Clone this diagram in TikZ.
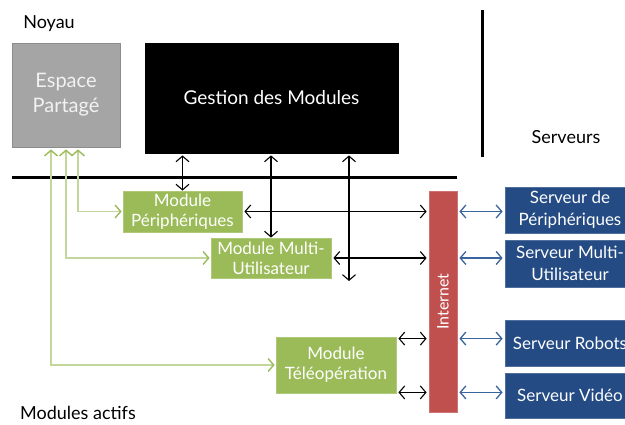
\documentclass[tikz,border=0pt]{standalone}
\usepackage{fontspec}
\setmainfont{Lato}
\usetikzlibrary{arrows.meta,calc,shadows}

\definecolor{grisnoyau}{HTML}{A5A5A5}
\definecolor{vertmodule}{HTML}{9BBB59}
\definecolor{vertclair}{HTML}{C3D69B}
\definecolor{rougenet}{HTML}{C0504D}
\definecolor{bleuserveur}{RGB}{36,75,132}
\definecolor{bleulien}{RGB}{58,100,160}

\begin{document}
\begin{tikzpicture}[x=0.5pt, y=-0.5pt, >={Straight Barb[length=2.8pt,width=6.5pt]},
    ombre/.style={drop shadow={opacity=0.25, shadow xshift=0.6pt, shadow yshift=-0.6pt}},
    boite/.style={draw, ombre, align=center, text=white, inner sep=1pt},
    noyau/.style={boite, fill=grisnoyau, draw=grisnoyau!85!black, text=white!95!black, font=\fontsize{10}{12.5}\selectfont},
    gestion/.style={boite, fill=black, font=\fontsize{9.5}{11}\selectfont},
    module/.style={boite, fill=vertmodule, draw=vertmodule!80!white, font=\fontsize{8.5}{10}\selectfont},
    reseau/.style={boite, fill=rougenet, draw=rougenet!80!white, font=\fontsize{8}{10}\selectfont},
    serveur/.style={boite, fill=bleuserveur, draw=bleuserveur!80!white, font=\fontsize{8.5}{11}\selectfont},
    titre/.style={font=\fontsize{9}{11}\selectfont},
    lien/.style={<->, line width=0.55pt},
    lienbleu/.style={<->, line width=0.65pt, bleulien, shorten <=1pt, shorten >=1pt},
    lienvert/.style={{Straight Barb[length=2.8pt,width=6.5pt,color=vertmodule]}-{Straight Barb[length=2.8pt,width=6.5pt,color=vertmodule]},
        line width=0.7pt, vertclair, shorten <=1pt, shorten >=0.5pt}]
    \useasboundingbox (0,0) rectangle (625,424);

    % Noyau
    \node[titre] (lnoyau) at (49,24) {Noyau};
    \node[noyau, minimum width=54pt, minimum height=52pt] (espace) at (66,95) {Espace\\Partagé};
    \node[gestion, minimum width=126.5pt, minimum height=55pt] (gestion) at (271.5,98) {Gestion des Modules};

    % separations
    \draw[line width=1.5pt] (12,177) -- (457,177);
    \draw[line width=1.5pt] (482,10) -- (482,157);
    \node[titre] (lserveurs) at (566,137) {Serveurs};

    % Modules actifs
    \node[module, minimum width=59.5pt, minimum height=20.5pt] (modper) at (182.5,211.5) {Module\\Périphériques};
    \node[module, minimum width=60pt, minimum height=20pt] (modmulti) at (271,258) {Module Multi-\\Utilisateur};
    \node[module, minimum width=60pt, minimum height=28pt] (teleop) at (336,365) {Module\\Téléopération};
    \node[titre] (lmodules) at (78,413) {Modules actifs};

    % Internet
    \node[reseau, minimum width=14pt, minimum height=110.5pt] (internet) at (443,301.5) {\rotatebox{90}{Internet}};

    % Serveurs
    \node[serveur, minimum width=65pt, minimum height=23pt] (srvper) at (570,210) {Serveur de\\Périphériques};
    \node[serveur, minimum width=65pt, minimum height=23.5pt] (srvmulti) at (570,263.5) {Serveur Multi-\\Utilisateur};
    \node[serveur, minimum width=65pt, minimum height=23pt] (robots) at (570,343) {Serveur Robots};
    \node[serveur, minimum width=65pt, minimum height=22.5pt] (video) at (570,395.5) {Serveur Vidéo};

    % liens gestion / modules
    \coordinate (libre) at (349,281);
    \draw[lien, shorten <=1pt] (gestion.south -| modper) -- (modper.north);
    \draw[lien, shorten <=1pt] (gestion.south -| modmulti) -- (modmulti.north);
    \draw[lien, shorten <=1pt] (gestion.south -| libre) -- (libre);

    % liens modules / internet
    \coordinate (t1) at ($(teleop.north east)+(0,2)$);
    \coordinate (t2) at ($(teleop.south east)+(0,-1)$);
    \draw[lien, shorten <=1pt, shorten >=1pt] (modper.east) -- (modper.east -| internet.west);
    \draw[lien, shorten <=1pt, shorten >=1pt] (modmulti.east) -- (modmulti.east -| internet.west);
    \draw[lien, shorten <=1pt, shorten >=1pt] (t1) -- (t1 -| internet.west);
    \draw[lien, shorten <=1pt, shorten >=1pt] (t2) -- (t2 -| internet.west);

    % liens internet / serveurs
    \draw[lienbleu] (modper.east -| internet.east) -- (modper.east -| srvper.west);
    \draw[lienbleu] (modmulti.east -| internet.east) -- (modmulti.east -| srvmulti.west);
    \draw[lienbleu] (t1 -| internet.east) -- (t1 -| robots.west);
    \draw[lienbleu] (t2 -| internet.east) -- (t2 -| video.west);

    % espace partage
    \draw[lienvert] ([xshift=6pt]espace.south) |- (modper.west);
    \draw[lienvert] (espace.south) |- (modmulti.west);
    \draw[lienvert] ([xshift=-7.5pt]espace.south) |- (teleop.west);
\end{tikzpicture}
\end{document}
